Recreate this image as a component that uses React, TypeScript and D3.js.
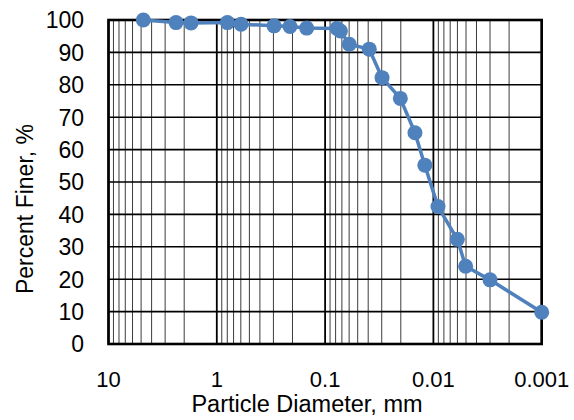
import React from "react";
import * as d3 from "d3";

const diameters = [4.77, 2.38, 1.73, 0.798, 0.597, 0.296, 0.211, 0.148, 0.0777, 0.0722, 0.0598, 0.0391, 0.0298, 0.0202, 0.0148, 0.012, 0.00907, 0.00601, 0.00504, 0.003, 0.001];
const percentFiner = [100, 99.2, 99.1, 99.2, 98.7, 98.2, 98.0, 97.5, 97.4, 96.6, 92.5, 91.0, 82.2, 75.8, 65.2, 55.2, 42.4, 32.3, 24.0, 19.8, 9.8];
const xTickValues = [10, 1, 0.1, 0.01, 0.001];
const xTickLabels = ["10", "1", "0.1", "0.01", "0.001"];
const yTickValues = [0, 10, 20, 30, 40, 50, 60, 70, 80, 90, 100];

const W = 574;
const H = 420;
const left = 108.5;
const right = 541.7;
const top = 20;
const bottom = 344;
const FONT = "'Liberation Sans', Arial, sans-serif";
const BLUE = "#4F81BD";

export default function App() {
  const x = d3.scaleLog().domain([10, 0.001]).range([left, right]);
  const y = d3.scaleLinear().domain([0, 100]).range([bottom, top]);

  const minor: number[] = [];
  for (const dec of [1, 0.1, 0.01, 0.001]) {
    for (let k = 2; k <= 9; k++) minor.push(dec * k);
  }

  const line = d3
    .line<number>()
    .x((_, i) => x(diameters[i]))
    .y((d) => y(d));

  return (
    <svg width={W} height={H} style={{ position: "absolute", left: 0, top: 0, background: "#fff" }} fontFamily={FONT}>
      <rect x={0} y={0} width={W} height={H} fill="#fff" />
      {minor.map((v, i) => (
        <line key={"m" + i} x1={x(v)} x2={x(v)} y1={top} y2={bottom} stroke="#3c3c3c" strokeWidth={1} />
      ))}
      {yTickValues.map((v) => (
        <line key={"h" + v} x1={left} x2={right} y1={y(v)} y2={y(v)} stroke="#000" strokeWidth={1.6} />
      ))}
      {xTickValues.map((v) => (
        <line key={"v" + v} x1={x(v)} x2={x(v)} y1={top} y2={bottom} stroke="#000" strokeWidth={1.8} />
      ))}
      <rect x={left} y={top} width={right - left} height={bottom - top} fill="none" stroke="#000" strokeWidth={2.6} />

      <path d={line(percentFiner) || ""} fill="none" stroke={BLUE} strokeWidth={3.5} strokeLinejoin="round" />
      {percentFiner.map((v, i) => (
        <circle key={"c" + i} cx={x(diameters[i])} cy={y(v)} r={7.5} fill={BLUE} />
      ))}

      {yTickValues.map((v) => (
        <text key={"yl" + v} x={84} y={y(v) + 8.3} textAnchor="end" fontSize={23} fill="#000">
          {v}
        </text>
      ))}
      {xTickValues.map((v, i) => (
        <text key={"xl" + v} x={x(v)} y={386.5} textAnchor="middle" fontSize={22} fill="#000">
          {xTickLabels[i]}
        </text>
      ))}
      <text x={307} y={412} textAnchor="middle" fontSize={23.5} fill="#000">
        Particle Diameter, mm
      </text>
      <text transform={`translate(33,209) rotate(-90)`} textAnchor="middle" fontSize={23} fill="#000">
        Percent Finer, %
      </text>
    </svg>
  );
}
